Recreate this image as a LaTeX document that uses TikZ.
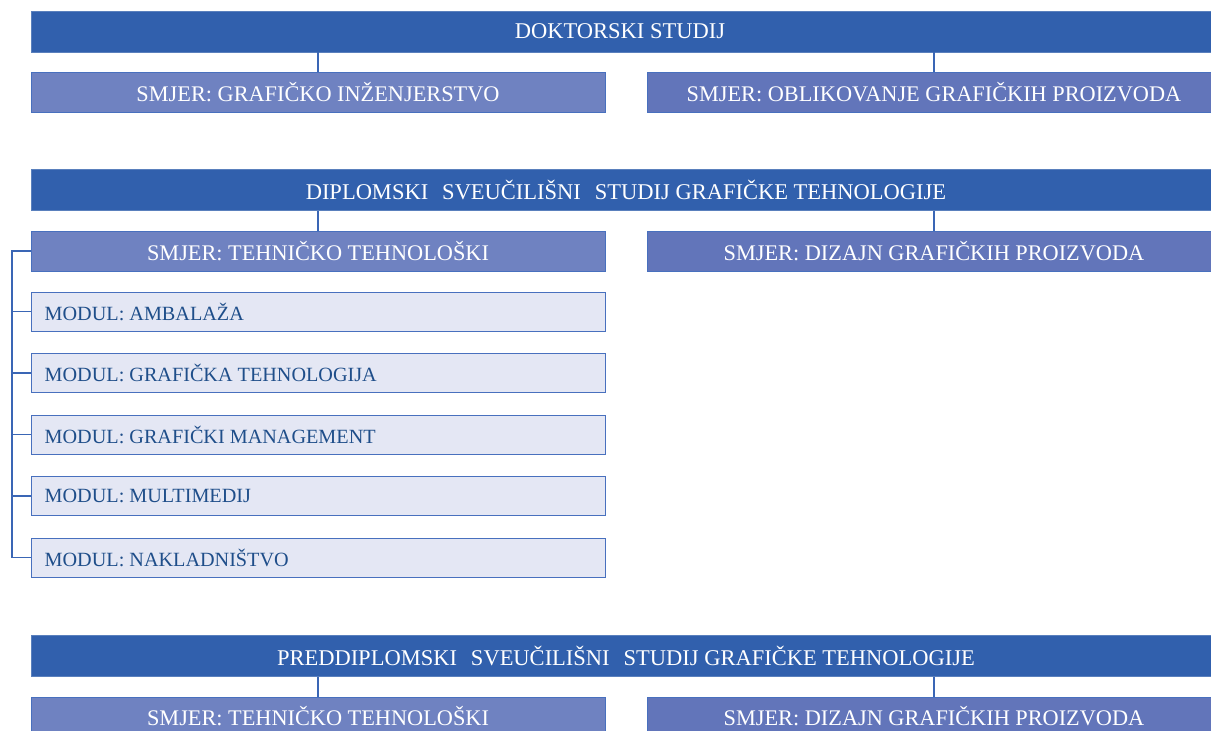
\documentclass[tikz,border=0pt]{standalone}
\usepackage{fontspec}
\setmainfont{Liberation Serif}
\definecolor{barblue}{RGB}{49,96,173}
\definecolor{smjerL}{RGB}{111,130,193}
\definecolor{smjerR}{RGB}{98,117,186}
\definecolor{edgeblue}{RGB}{72,112,190}
\definecolor{modfill}{RGB}{228,231,244}
\definecolor{modtext}{RGB}{31,78,138}
\definecolor{lineblue}{RGB}{58,102,181}
\tikzset{
  barbox/.style={draw=barblue!80!white, line width=0.8pt, fill=barblue, text=white, minimum height=41pt, minimum width=1190pt, inner sep=0pt, font=\fontsize{22.5}{24}\selectfont},
  smjerbox/.style={draw=edgeblue, line width=1pt, text=white, minimum height=40pt, minimum width=574pt, inner sep=0pt, font=\fontsize{22.3}{24}\selectfont},
  modbox/.style={draw=edgeblue, line width=1pt, fill=modfill, minimum height=39pt, minimum width=574pt, inner sep=0pt},
  modtxt/.style={text=modtext, anchor=west, inner sep=0pt, font=\fontsize{20.2}{22}\selectfont},
  conn/.style={draw=lineblue, line width=1.2pt}
}
\begin{document}
\begin{tikzpicture}[x=1pt,y=-1pt]
\useasboundingbox (0,0) rectangle (1211,731);
\clip (0,0) rectangle (1211,731);
% DOKTORSKI
\node[barbox] (dok) at (626,31.5) {\hspace{-12pt}DOKTORSKI STUDIJ};
\node[smjerbox, fill=smjerL] (dokL) at (318,92) {SMJER: GRAFIČKO INŽENJERSTVO};
\node[smjerbox, fill=smjerR] (dokR) at (934,92) {SMJER: OBLIKOVANJE GRAFIČKIH PROIZVODA};
\draw[conn] (dokL.north |- dok.south) -- (dokL.north);
\draw[conn] (dokR.north |- dok.south) -- (dokR.north);
% DIPLOMSKI
\node[barbox] (dip) at (626,190) {DIPLOMSKI\hspace{14pt}SVEUČILIŠNI\hspace{14pt}STUDIJ GRAFIČKE TEHNOLOGIJE};
\node[smjerbox, fill=smjerL] (dipL) at (318,251) {SMJER: TEHNIČKO TEHNOLOŠKI};
\node[smjerbox, fill=smjerR] (dipR) at (934,251) {SMJER: DIZAJN GRAFIČKIH PROIZVODA};
\draw[conn] (dipL.north |- dip.south) -- (dipL.north);
\draw[conn] (dipR.north |- dip.south) -- (dipR.north);
\node[modbox] (m1) at (318,311.5) {};
\node[modbox] (m2) at (318,373) {};
\node[modbox] (m3) at (318,434.5) {};
\node[modbox] (m4) at (318,496) {};
\node[modbox] (m5) at (318,557.5) {};
\node[modtxt] (t1) at ([xshift=14pt]m1.west) {MODUL: AMBALAŽA};
\node[modtxt] (t2) at ([xshift=14pt]m2.west) {MODUL: GRAFIČKA TEHNOLOGIJA};
\node[modtxt] (t3) at ([xshift=14pt]m3.west) {MODUL: GRAFIČKI MANAGEMENT};
\node[modtxt] (t4) at ([xshift=14pt]m4.west) {MODUL: MULTIMEDIJ};
\node[modtxt] (t5) at ([xshift=14pt]m5.west) {MODUL: NAKLADNIŠTVO};
\coordinate (spTop) at (12,251);
\coordinate (spBot) at (12,557.5);
\draw[conn] (dipL.west) -- (spTop) -- (spBot) -- (m5.west);
\draw[conn] (m1.west) -- (m1.west -| spTop);
\draw[conn] (m2.west) -- (m2.west -| spTop);
\draw[conn] (m3.west) -- (m3.west -| spTop);
\draw[conn] (m4.west) -- (m4.west -| spTop);
% PREDDIPLOMSKI
\node[barbox] (pre) at (626,656) {PREDDIPLOMSKI\hspace{14pt}SVEUČILIŠNI\hspace{14pt}STUDIJ GRAFIČKE TEHNOLOGIJE};
\node[smjerbox, fill=smjerL] (preL) at (318,717) {\raisebox{2pt}{SMJER: TEHNIČKO TEHNOLOŠKI}};
\node[smjerbox, fill=smjerR] (preR) at (934,717) {\raisebox{2pt}{SMJER: DIZAJN GRAFIČKIH PROIZVODA}};
\draw[conn] (preL.north |- pre.south) -- (preL.north);
\draw[conn] (preR.north |- pre.south) -- (preR.north);
\end{tikzpicture}
\end{document}
